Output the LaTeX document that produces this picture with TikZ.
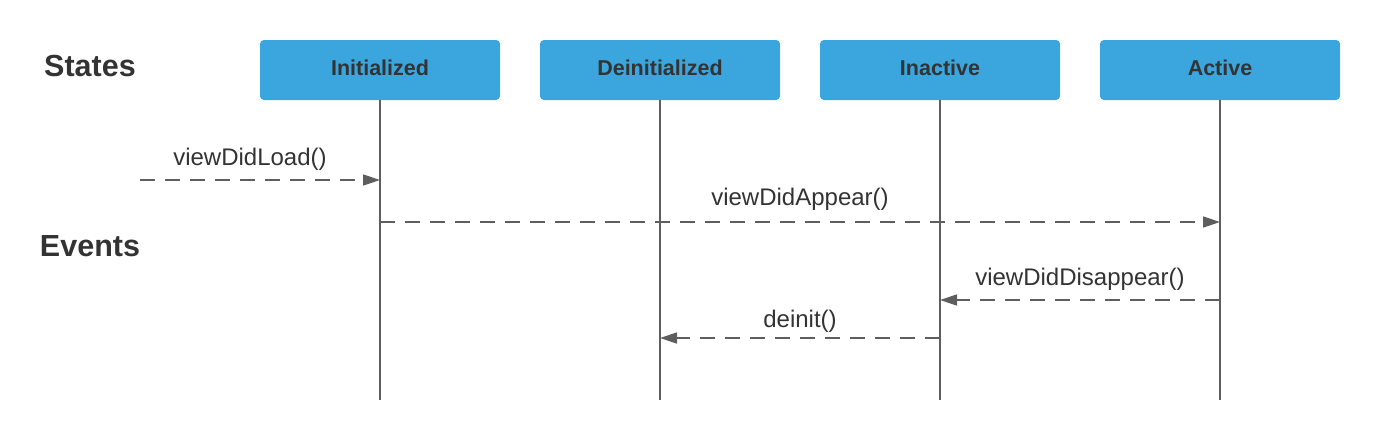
\documentclass[tikz,border=0pt]{standalone}
\usepackage{fontspec}
\setmainfont{Liberation Sans}
\usetikzlibrary{arrows.meta}
\definecolor{boxblue}{HTML}{3AA6DD}
\definecolor{linegray}{HTML}{5E5E5E}
\definecolor{txt}{HTML}{333333}
\tikzset{
  statebox/.style={fill=boxblue, draw=none, rounded corners=4pt, minimum width=240pt, minimum height=60pt, inner sep=0pt},
  boxlabel/.style={text=txt, font=\fontsize{21.5}{24}\selectfont\bfseries, inner sep=0pt},
  lifeline/.style={draw=linegray, line width=1.5pt},
  msg/.style={draw=linegray, line width=1.5pt, dash pattern=on 15pt off 10pt, -{Triangle[length=17pt,width=11pt]}},
  msglabel/.style={text=txt, font=\fontsize{24}{28}\selectfont, inner sep=0pt},
  heading/.style={text=txt, font=\fontsize{30.5}{34}\selectfont\bfseries, inner sep=0pt},
}
\begin{document}
\begin{tikzpicture}[x=1pt,y=-1pt]
\useasboundingbox (0,0) rectangle (1380,440);
\node[heading] (states) at (90,66) {States};
\node[heading] (events) at (90,246) {Events};

\node[statebox] (init) at (380,70) {};
\node[statebox] (deinit) at (660,70) {};
\node[statebox] (inact) at (940,70) {};
\node[statebox] (act) at (1220,70) {};
\node[boxlabel] (initT) at ([yshift=2pt]init.center) {Initialized};
\node[boxlabel] (deinitT) at ([yshift=2pt]deinit.center) {Deinitialized};
\node[boxlabel] (inactT) at ([yshift=2pt]inact.center) {Inactive};
\node[boxlabel] (actT) at ([yshift=2pt]act.center) {Active};

\coordinate (initE) at (380,400);
\coordinate (deinitE) at (660,400);
\coordinate (inactE) at (940,400);
\coordinate (actE) at (1220,400);
\draw[lifeline] (init.south) -- (initE);
\draw[lifeline] (deinit.south) -- (deinitE);
\draw[lifeline] (inact.south) -- (inactE);
\draw[lifeline] (act.south) -- (actE);

\coordinate (start) at (140,180);
\coordinate (loadEnd) at (380,180);
\draw[msg] (start) -- (loadEnd);
\node[msglabel] (l1) at (250,159) {viewDidLoad()};

\coordinate (appS) at (380,222);
\coordinate (appE) at (1220,222);
\draw[msg] (appS) -- (appE);
\node[msglabel] (l2) at (800,199) {viewDidAppear()};

\coordinate (disS) at (1220,300);
\coordinate (disE) at (940,300);
\draw[msg] (disS) -- (disE);
\node[msglabel] (l3) at (1080,279) {viewDidDisappear()};

\coordinate (deS) at (940,338);
\coordinate (deE) at (660,338);
\draw[msg] (deS) -- (deE);
\node[msglabel] (l4) at (800,321) {deinit()};
\end{tikzpicture}
\end{document}
